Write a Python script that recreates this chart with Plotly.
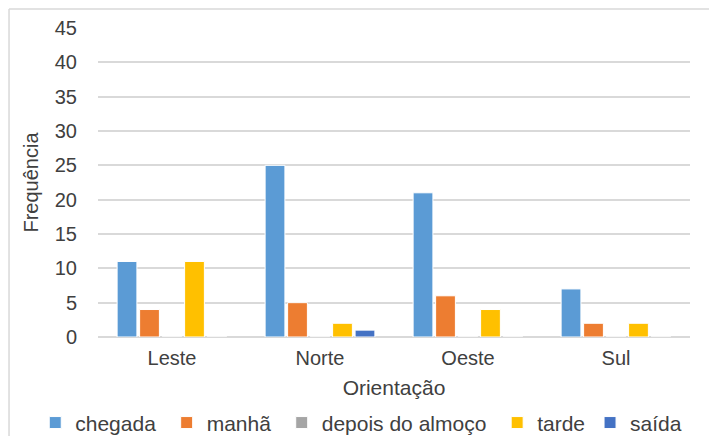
import plotly.graph_objects as go

orientacao = ['Leste', 'Norte', 'Oeste', 'Sul']
chegada = [11, 25, 21, 7]
manha = [4, 5, 6, 2]
depois_almoco = [0, 0, 0, 0]
tarde = [11, 2, 4, 2]
saida = [0, 1, 0, 0]

nb = '\u00a0'  # espaço extra na legenda para afastar os itens como no Excel
series = [
    ('chegada' + nb, chegada, '#5B9BD5'),
    ('manhã' + nb, manha, '#ED7D31'),
    ('depois do almoço' + nb, depois_almoco, '#A5A5A5'),
    ('tarde', tarde, '#FFC000'),
    ('saída', saida, '#4472C4'),
]

text_color = '#404040'
grid_color = '#D9D9D9'

fig = go.Figure()
for name, vals, col in series:
    fig.add_trace(go.Bar(
        x=orientacao, y=vals, name=name,
        marker=dict(color=col, line=dict(color='white', width=1)),
    ))

# a página tem ~8px de margem no body, por isso tudo vai 8px para cima/esquerda
fig.update_layout(
    width=717, height=436,
    margin=dict(l=90, r=35, t=20, b=107, autoexpand=False),
    paper_bgcolor='white',
    plot_bgcolor='white',
    barmode='group',
    bargap=0.24,
    bargroupgap=0.12,
    font=dict(family='Liberation Sans, Arial', size=20, color=text_color),
    showlegend=True,
    legend=dict(
        orientation='h',
        x=-0.106, xanchor='left',
        y=-0.278, yanchor='middle',
        font=dict(size=21, color=text_color),
        itemwidth=30,
        traceorder='normal',
    ),
)

fig.update_xaxes(
    showgrid=False,
    showline=False,
    zeroline=False,
    ticks='',
    ticklabelstandoff=7,
    title=dict(text='Orientação', standoff=12, font=dict(size=21, color=text_color)),
)

fig.update_yaxes(
    range=[0, 45],
    dtick=5,
    showgrid=True, gridcolor=grid_color, gridwidth=1.5,
    zeroline=True, zerolinecolor=grid_color, zerolinewidth=1.5,
    showline=False,
    ticks='',
    ticklabelstandoff=20,
    title=dict(text='Frequência', standoff=10, font=dict(size=20, color=text_color)),
)

# moldura cinza clara do gráfico (sem borda à direita, como no original)
fig.add_shape(type='line', xref='paper', yref='paper',
              x0=-0.1503, x1=1.1, y0=1.0615, y1=1.0615,
              line=dict(color=grid_color, width=1.5))
fig.add_shape(type='line', xref='paper', yref='paper',
              x0=-0.1503, x1=-0.1503, y0=1.0615, y1=-0.4,
              line=dict(color=grid_color, width=1.5))

fig.write_html("out.html")
